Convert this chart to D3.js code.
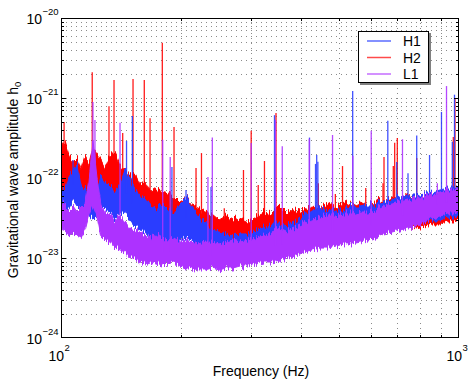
<!DOCTYPE html>
<html><head><meta charset="utf-8">
<script src="https://cdn.jsdelivr.net/npm/d3@7"></script>
<style>
body{margin:0;background:#fff}
text{font-family:"Liberation Sans",Arial,Helvetica,sans-serif;fill:#000}
</style>
</head><body>
<svg id="chart" width="475" height="382"></svg>
<script>
// ---- data (frequency in Hz, amplitude h0) ----
const freq = [100,102.3,104.7,107.2,109.7,112.3,114.9,117.6,120.3,123.1,126,129,132.8,136.7,140.7,144.8,149.1,153.4,157.9,162.6,167.4,173.3,179.4,185.7,192.2,199.1,206.1,213.4,220.9,230,239.5,249.5,259.8,270.5,281.7,295,309,323.6,338.9,355,371.8,389.4,407.8,427.1,447.4,468.6,490.8,514.1,538.4,564,590.7,618.7,648,678.7,710.9,744.6,779.9,816.9,855.6,896.2,938.7,971.5,1000];

const h2Hi = [2.24e-22,2.82e-22,1.88e-22,1.58e-22,1.78e-22,1.26e-22,1.88e-22,1.50e-22,2.37e-22,2.00e-22,1.68e-22,1.33e-22,1.88e-22,2.11e-22,1.41e-22,1.26e-22,1.06e-22,1.12e-22,8.41e-23,8.91e-23,6.68e-23,7.50e-23,6.68e-23,6.31e-23,5.96e-23,5.01e-23,5.62e-23,4.47e-23,4.22e-23,3.76e-23,3.55e-23,2.99e-23,3.35e-23,2.99e-23,3.16e-23,2.82e-23,3.35e-23,3.76e-23,3.55e-23,4.47e-23,3.55e-23,3.98e-23,3.76e-23,4.47e-23,4.22e-23,4.73e-23,4.22e-23,5.01e-23,4.47e-23,5.01e-23,4.47e-23,5.31e-23,5.01e-23,5.62e-23,5.31e-23,6.31e-23,5.62e-23,6.31e-23,5.96e-23,6.68e-23,6.31e-23,7.08e-23,6.31e-23];
const h2Lo = [5.96e-23,7.08e-23,5.62e-23,5.31e-23,5.01e-23,4.73e-23,5.96e-23,5.62e-23,7.08e-23,7.50e-23,6.31e-23,7.08e-23,7.50e-23,6.68e-23,5.96e-23,5.01e-23,4.73e-23,4.47e-23,3.98e-23,3.76e-23,3.55e-23,3.16e-23,2.66e-23,2.82e-23,2.51e-23,2.37e-23,2.11e-23,2.11e-23,1.88e-23,1.88e-23,1.68e-23,1.68e-23,1.50e-23,1.58e-23,1.41e-23,1.58e-23,1.41e-23,1.33e-23,1.26e-23,1.41e-23,1.58e-23,1.68e-23,1.68e-23,1.88e-23,2.00e-23,1.78e-23,2.00e-23,2.11e-23,2.00e-23,2.11e-23,2.24e-23,2.00e-23,2.24e-23,2.37e-23,2.37e-23,2.51e-23,2.37e-23,2.51e-23,2.66e-23,2.66e-23,2.82e-23,2.82e-23,2.99e-23];

const h1Hi = [7.50e-23,7.08e-23,1.06e-22,1.26e-22,1.50e-22,7.94e-23,7.50e-23,6.31e-23,5.96e-23,7.50e-23,1.06e-22,8.91e-23,7.94e-23,6.68e-23,8.41e-23,1.26e-22,9.44e-23,7.08e-23,5.96e-23,5.62e-23,4.47e-23,4.22e-23,4.73e-23,3.98e-23,3.76e-23,4.73e-23,5.62e-23,4.22e-23,3.35e-23,2.82e-23,2.24e-23,2.11e-23,2.00e-23,1.88e-23,2.00e-23,2.00e-23,2.24e-23,2.37e-23,2.66e-23,2.66e-23,2.51e-23,2.82e-23,3.35e-23,3.98e-23,4.22e-23,3.76e-23,3.98e-23,3.98e-23,4.47e-23,4.47e-23,4.73e-23,4.73e-23,5.01e-23,5.31e-23,5.62e-23,5.96e-23,5.96e-23,6.31e-23,6.68e-23,7.08e-23,7.50e-23,7.50e-23,7.94e-23];
const h1Lo = [3.55e-23,3.76e-23,4.47e-23,5.31e-23,4.47e-23,3.98e-23,3.76e-23,3.35e-23,3.16e-23,3.55e-23,4.73e-23,4.22e-23,3.76e-23,3.16e-23,3.55e-23,3.76e-23,2.99e-23,2.51e-23,2.24e-23,2.11e-23,1.78e-23,1.68e-23,1.58e-23,1.41e-23,1.50e-23,1.68e-23,1.78e-23,1.68e-23,1.41e-23,1.33e-23,1.12e-23,1.06e-23,1.00e-23,1.00e-23,1.06e-23,1.06e-23,1.12e-23,1.12e-23,1.19e-23,1.12e-23,1.26e-23,1.33e-23,1.41e-23,1.50e-23,1.68e-23,1.58e-23,1.68e-23,1.78e-23,1.78e-23,1.88e-23,2.00e-23,2.11e-23,2.24e-23,2.24e-23,2.37e-23,2.51e-23,2.66e-23,2.82e-23,2.99e-23,2.99e-23,3.16e-23,3.16e-23,3.35e-23];

const l1Hi = [5.31e-23,4.47e-23,3.98e-23,4.47e-23,3.76e-23,4.22e-23,4.73e-23,9.44e-23,2.99e-22,1.06e-22,4.73e-23,3.76e-23,3.55e-23,2.99e-23,3.35e-23,2.82e-23,2.37e-23,2.24e-23,2.11e-23,1.88e-23,1.78e-23,2.00e-23,1.78e-23,1.68e-23,1.78e-23,1.58e-23,1.68e-23,1.58e-23,1.50e-23,1.58e-23,1.58e-23,1.50e-23,1.58e-23,1.68e-23,1.58e-23,1.68e-23,1.78e-23,1.88e-23,2.11e-23,2.37e-23,2.11e-23,2.37e-23,2.66e-23,2.99e-23,3.16e-23,3.35e-23,3.35e-23,3.55e-23,3.55e-23,3.76e-23,3.76e-23,3.98e-23,4.47e-23,4.73e-23,5.01e-23,5.31e-23,5.62e-23,5.96e-23,6.31e-23,6.68e-23,7.08e-23,7.08e-23,7.50e-23];
const l1Lo = [2.51e-23,2.11e-23,1.88e-23,2.11e-23,1.88e-23,1.78e-23,2.24e-23,3.55e-23,4.73e-23,3.55e-23,1.88e-23,1.68e-23,1.58e-23,1.33e-23,1.26e-23,1.19e-23,1.00e-23,1.00e-23,8.91e-24,8.41e-24,8.91e-24,8.41e-24,7.94e-24,8.41e-24,8.91e-24,7.94e-24,7.50e-24,7.50e-24,7.08e-24,7.08e-24,7.50e-24,7.08e-24,7.50e-24,7.50e-24,7.94e-24,7.94e-24,8.41e-24,8.91e-24,8.91e-24,9.44e-24,1.00e-23,1.06e-23,1.19e-23,1.26e-23,1.33e-23,1.33e-23,1.41e-23,1.50e-23,1.50e-23,1.58e-23,1.68e-23,1.78e-23,2.00e-23,2.11e-23,2.24e-23,2.37e-23,2.51e-23,2.82e-23,3.16e-23,3.35e-23,3.55e-23,3.55e-23,3.76e-23];

// spectral lines (frequency, peak amplitude)
const h2LineFreq = [101.8,119.8,132.0,135.9,142.9,151.7,161.9,167.4,179.7,192.3,218.4,225.4,257.2,287.4,300.5,313.0,324.5,346.9,377.8,443.1,489,509.7,583,644.2,648,683.8,689.3,699.8,783,967.6,977];
const h2LinePeak = [5.0e-22,2.1e-21,7.9e-22,1.68e-21,3.65e-22,1.73e-21,1.68e-21,5.6e-22,4.9e-21,4.35e-22,1.33e-22,2.05e-22,4.2e-23,1.26e-22,3.9e-22,8.2e-23,1.63e-22,6.5e-22,3.9e-23,8.6e-23,6.3e-23,1.41e-22,7.5e-23,8.6e-23,1.83e-22,1.41e-22,2.75e-22,3.16e-22,1.78e-22,3.25e-22,9.7e-22];
const h1LineFreq = [107.2,146.1,151.1,190.0,206.1,238.2,343.9,421.1,436,439,442,540.6,662.4,697.5,744.5,783,843.3,903.6,962.1,974.3];
const h1LinePeak = [1.68e-22,2.9e-22,5.96e-22,1.37e-22,7.1e-23,7.7e-23,6.1e-22,3.2e-22,1.5e-22,1.94e-22,1.6e-22,1.22e-21,5.2e-22,1.58e-22,1.15e-22,3.4e-22,1.94e-22,6.7e-22,2.84e-22,1.1e-21];
const l1LineFreq = [120.3,121.7,140.7,180.1,188.1,234.0,240.0,300.6,345.9,359.7,420.6,481.1,541,601.8,721.1,882.2,930.3];
const l1LinePeak = [8.9e-22,5.3e-22,4.9e-22,3.0e-22,1.83e-22,1.03e-22,3.2e-22,2.73e-22,5.3e-22,2.5e-22,3.1e-22,3.45e-22,1.9e-22,3.9e-22,3.05e-22,8.6e-23,1.41e-21];

const seriesNames = ["H1","H2","L1"];
const seriesColors = {H1:"#2b3dff", H2:"#ff0000", L1:"#ad33ff"};
const legendColors = {H1:"#5a6bff", H2:"#ff4a4a", L1:"#c46cff"};
const xTickExps = [2,3];
const yTickExps = [-24,-23,-22,-21,-20];

// ---- layout ----
const L=61, R=459, T=18, B=338;
const svg = d3.select("#chart");
const x = d3.scaleLog().domain([100,1000]).range([L,R]);
const y = d3.scaleLog().domain([1e-24,1e-20]).range([B,T]);

// texture filter: jagged vertical edges for the noise-band spectra
const defs = svg.append("defs");
const flt = defs.append("filter").attr("id","jag").attr("filterUnits","userSpaceOnUse")
  .attr("x",0).attr("y",0).attr("width",475).attr("height",382);
flt.append("feTurbulence").attr("type","fractalNoise").attr("baseFrequency","0.7 0.012").attr("numOctaves",2).attr("seed",7).attr("result","n");
flt.append("feColorMatrix").attr("in","n").attr("type","matrix")
  .attr("values","0 0 0 0 0.5  0 1 0 0 0  0 0 0 0 0  0 0 0 0 1").attr("result","m");
flt.append("feDisplacementMap").attr("in","SourceGraphic").attr("in2","m").attr("scale",13)
  .attr("xChannelSelector","R").attr("yChannelSelector","G");
const clip = defs.append("clipPath").attr("id","plotclip");
clip.append("rect").attr("x",L).attr("y",T).attr("width",R-L).attr("height",B-T);

// grid
const xMinor = [200,300,400,500,600,700,800,900];
const yMinor = [];
for (let e=-24;e<-20;e++) for (let k=1;k<10;k++){ const v=k*Math.pow(10,e); if(v>1e-24) yMinor.push(v); }
const grid = svg.append("g").attr("stroke","#000").attr("stroke-width",1).attr("stroke-dasharray","1 4").attr("opacity",0.45);
xMinor.forEach(v=>grid.append("line").attr("x1",Math.round(x(v))+0.5).attr("x2",Math.round(x(v))+0.5).attr("y1",T).attr("y2",B));
yMinor.forEach(v=>grid.append("line").attr("y1",Math.round(y(v))+0.5).attr("y2",Math.round(y(v))+0.5).attr("x1",L).attr("x2",R));

// series
const data = {
  H1:{hi:h1Hi, lo:h1Lo, lf:h1LineFreq, lp:h1LinePeak},
  H2:{hi:h2Hi, lo:h2Lo, lf:h2LineFreq, lp:h2LinePeak},
  L1:{hi:l1Hi, lo:l1Lo, lf:l1LineFreq, lp:l1LinePeak}
};
function envAt(arr,f){
  let i = d3.bisectRight(freq,f); i=Math.max(1,Math.min(freq.length-1,i));
  const t=(Math.log(f)-Math.log(freq[i-1]))/(Math.log(freq[i])-Math.log(freq[i-1]));
  return Math.exp(Math.log(arr[i-1])*(1-t)+Math.log(arr[i])*t);
}
const plot = svg.append("g").attr("clip-path","url(#plotclip)");
const area = d3.area().x(d=>x(d.f)).y0(d=>y(d.lo)).y1(d=>y(d.hi));
["H2","H1","L1"].forEach(name=>{
  const s=data[name], c=seriesColors[name];
  const g=plot.append("g");
  const pts=freq.map((f,i)=>({f, hi:s.hi[i], lo:s.lo[i]}));
  g.append("path").datum(pts).attr("d",area).attr("fill",c)
    .attr("stroke",c).attr("stroke-width",1).attr("filter","url(#jag)");
  s.lf.forEach((f,i)=>{
    const base=Math.sqrt(envAt(s.hi,f)*envAt(s.lo,f));
    g.append("line").attr("x1",x(f)).attr("x2",x(f)).attr("y1",y(s.lp[i])).attr("y2",y(base))
      .attr("stroke",c).attr("stroke-width",1.3).attr("stroke-opacity",0.9);
  });
});

// axes box and ticks
const ax = svg.append("g").attr("stroke","#000").attr("stroke-width",1).attr("fill","none");
ax.append("rect").attr("x",L+0.5).attr("y",T+0.5).attr("width",R-L-1).attr("height",B-T-1);
xMinor.forEach(v=>{const px=Math.round(x(v))+0.5;
  ax.append("line").attr("x1",px).attr("x2",px).attr("y1",B).attr("y2",B-3);
  ax.append("line").attr("x1",px).attr("x2",px).attr("y1",T).attr("y2",T+3);});
yMinor.forEach(v=>{const py=Math.round(y(v))+0.5;
  const isMajor = Math.abs(Math.log10(v)-Math.round(Math.log10(v)))<1e-6;
  const len = isMajor?5:3;
  ax.append("line").attr("x1",L).attr("x2",L+len).attr("y1",py).attr("y2",py);
  ax.append("line").attr("x1",R).attr("x2",R-len).attr("y1",py).attr("y2",py);});

// tick labels
const lab = svg.append("g");
yTickExps.forEach(e=>{
  lab.append("text").attr("x",42).attr("y",y(Math.pow(10,e))+5.5).attr("text-anchor","end").attr("font-size",14).text("10");
  lab.append("text").attr("x",42.5).attr("y",y(Math.pow(10,e))-3).attr("font-size",9.5).text("\u2212"+Math.abs(e));
});
xTickExps.forEach(e=>{
  const px=x(Math.pow(10,e));
  lab.append("text").attr("x",px+3).attr("y",361).attr("text-anchor","end").attr("font-size",14).text("10");
  lab.append("text").attr("x",px+3.5).attr("y",351).attr("font-size",9.5).text(String(e));
});
svg.append("text").attr("x",261).attr("y",376).attr("text-anchor","middle").attr("font-size",14).text("Frequency (Hz)");
const yl = svg.append("text").attr("transform","translate(18,180) rotate(-90)").attr("text-anchor","middle").attr("font-size",14);
yl.append("tspan").text("Gravitational wave amplitude h");
yl.append("tspan").attr("font-size",9.5).attr("dy",3).text("0");

// legend
const lg = svg.append("g");
lg.append("rect").attr("x",360).attr("y",33).attr("width",71).attr("height",52).attr("fill","#808080");
lg.append("rect").attr("x",358.5).attr("y",31.5).attr("width",70).attr("height",51).attr("fill","#fff").attr("stroke","#000");
seriesNames.forEach((n,i)=>{
  const yy=41+i*16.5;
  lg.append("line").attr("x1",367).attr("x2",391).attr("y1",yy).attr("y2",yy).attr("stroke",legendColors[n]).attr("stroke-width",1.5);
  lg.append("text").attr("x",403).attr("y",yy+5).attr("font-size",14).text(n);
});
</script>
</body></html>
